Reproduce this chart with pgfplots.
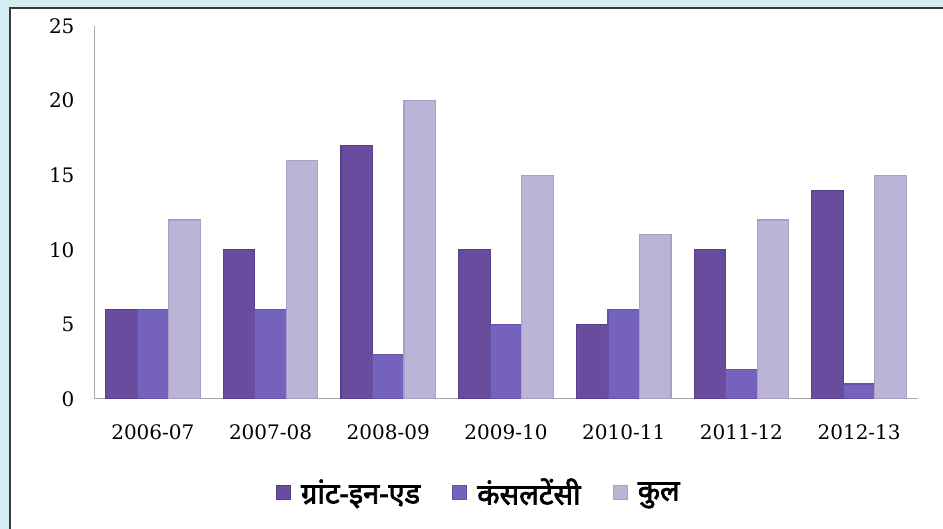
\documentclass[border=0pt]{standalone}
\usepackage{pgfplots}
\pgfplotsset{compat=1.18}
\usepackage{fontspec}
\setmainfont{DejaVu Serif}
\newfontfamily\deva[Script=Devanagari,FakeBold=2.5]{Noto Sans}
\definecolor{bgblue}{HTML}{D5ECF3}
\definecolor{frame}{HTML}{3A3A3A}
\definecolor{cA}{HTML}{6A4C9F}
\definecolor{cAd}{HTML}{5A3E8C}
\definecolor{cB}{HTML}{7462BC}
\definecolor{cBd}{HTML}{6252A8}
\definecolor{cC}{HTML}{BBB4D6}
\definecolor{cCd}{HTML}{A8A0C6}
\definecolor{axgray}{HTML}{A8A8A8}
\begin{document}
\begin{tikzpicture}[x=1pt,y=1pt]
\path[use as bounding box] (0,0) rectangle (943,529);
\begin{scope}
\clip (0,0) rectangle (943,529);
\fill[bgblue] (0,0) rectangle (943,529);
\filldraw[fill=white,draw=frame,line width=1.8pt] (10,-10) rectangle (960,521);
\end{scope}
\begin{axis}[
  at={(94pt,130pt)}, anchor=south west,
  scale only axis, width=824pt, height=373pt,
  xmin=-0.5, xmax=6.5, ymin=0, ymax=25,
  ytick={0,5,...,25},
  xtick={0,...,6},
  xticklabels={2006-07,2007-08,2008-09,2009-10,2010-11,2011-12,2012-13},
  axis lines*=left,
  axis line style={axgray, line width=1pt},
  major tick length=0pt,
  tick label style={font=\fontsize{20}{24}\selectfont, text=black},
  /pgf/number format/assume math mode=true,
  yticklabel style={xshift=-16pt},
  xticklabel style={yshift=-22pt},
  ybar=0pt, bar width=31.5pt,
  legend style={at={(axis description cs:0.467,-0.25)}, anchor=center, draw=none, fill=none,
    legend columns=3, font=\deva\fontsize{29}{32}\selectfont,
    /tikz/every odd column/.append style={column sep=8pt},
    /tikz/every even column/.append style={column sep=30pt}},
  legend cell align=left,
  legend image code/.code={\fill[#1] (0pt,-7pt) rectangle (14pt,7pt);},
]
\addplot[draw=cAd, line width=1.2pt, fill=cA] coordinates {(0,6) (1,10) (2,17) (3,10) (4,5) (5,10) (6,14)};
\addplot[draw=cBd, line width=1.2pt, fill=cB] coordinates {(0,6) (1,6) (2,3) (3,5) (4,6) (5,2) (6,1)};
\addplot[draw=cCd, line width=1.2pt, fill=cC] coordinates {(0,12) (1,16) (2,20) (3,15) (4,11) (5,12) (6,15)};
\legend{ग्रांट-इन-एड, कंसलटेंसी, कुल}
\end{axis}
\end{tikzpicture}
\end{document}
